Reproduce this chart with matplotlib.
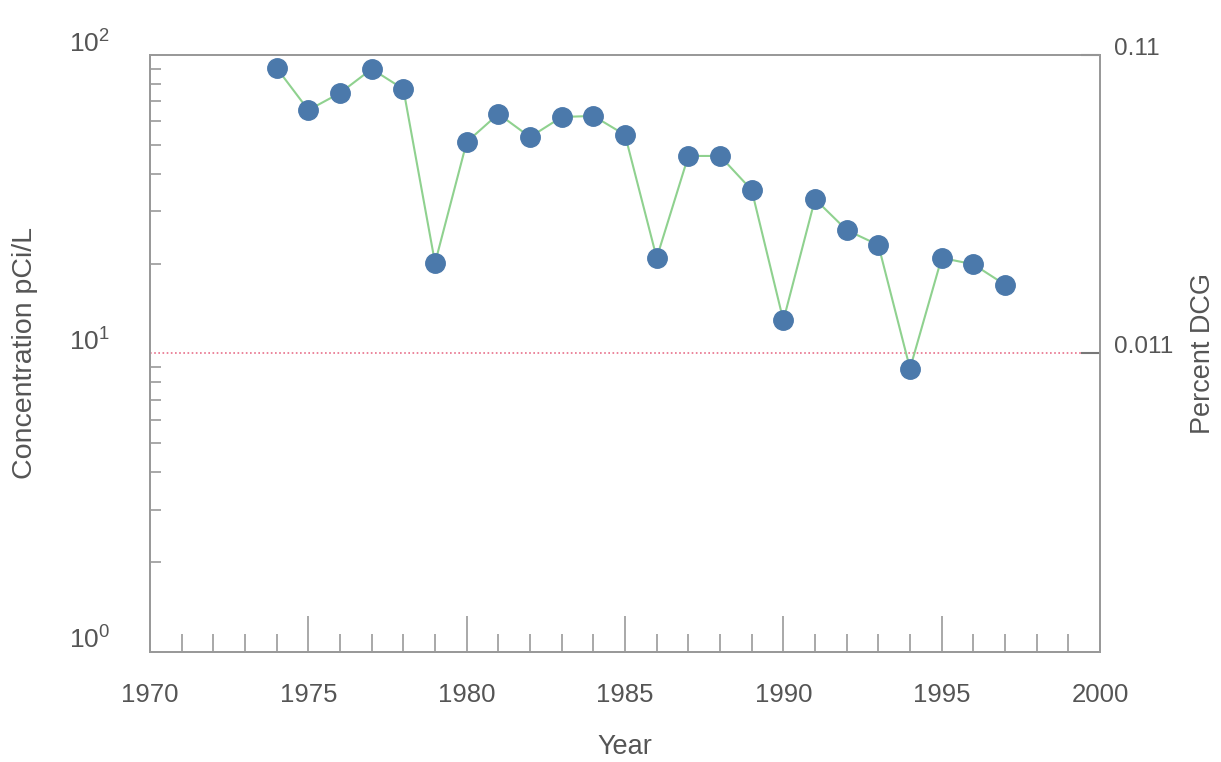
import matplotlib
matplotlib.use("Agg")
import matplotlib.pyplot as plt
from matplotlib.ticker import FixedLocator, NullFormatter, LogLocator
from matplotlib.transforms import ScaledTranslation

plt.rcParams['font.family'] = ['Liberation Sans', 'DejaVu Sans']

years = [1974, 1975, 1976, 1977, 1978, 1979, 1980, 1981, 1982, 1983, 1984, 1985,
         1986, 1987, 1988, 1989, 1990, 1991, 1992, 1993, 1994, 1995, 1996, 1997]
concentration = [90.4, 65.4, 74.6, 89.8, 76.9, 20.1, 51.1, 63.5, 53.1, 62.0, 62.5, 54.0,
                 20.9, 45.9, 45.9, 35.3, 12.9, 32.9, 25.9, 23.1, 8.9, 20.9, 19.9, 17.0]
dcg_level = 10.0
right_ticks = [0.011, 0.11]
right_labels = ["0.011", "0.11"]

text_color = "#555555"
spine_color = "#999999"

fig = plt.figure(figsize=(12.21, 7.62), dpi=100)
ax = fig.add_axes([0.1229, 0.1444, 0.778, 0.7834])

ax.set_yscale('log')
ax.set_ylim(1, 100)
ax.set_xlim(1970, 2000)

ax.axhline(dcg_level, color="#e8708a", linestyle=(0, (1, 1.5)), linewidth=1.2, zorder=1)
ax.plot(years, concentration, color="#8fd18f", linewidth=1.5, zorder=2)
ax.plot(years, concentration, linestyle='none', marker='o', markersize=14,
        markerfacecolor="#4b79ab", markeredgecolor="#4b79ab", zorder=3)

for s in ax.spines.values():
    s.set_color(spine_color)
    s.set_linewidth(1.3)

# x ticks: majors every 5 years, minors every year, pointing inward
ax.set_xticks(range(1970, 2001, 5))
ax.xaxis.set_minor_locator(FixedLocator(range(1970, 2001)))
ax.tick_params(axis='x', which='major', direction='in', length=26, width=1.2,
               color=spine_color, labelsize=18.5, labelcolor=text_color, pad=22)
ax.tick_params(axis='x', which='minor', direction='in', length=13, width=1.2,
               color=spine_color)

ax.yaxis.set_major_locator(FixedLocator([1, 10, 100]))
ax.yaxis.set_minor_locator(LogLocator(base=10, subs=range(2, 10)))
ax.yaxis.set_minor_formatter(NullFormatter())
ax.set_yticklabels([r"$\mathregular{10^0}$", r"$\mathregular{10^1}$", r"$\mathregular{10^2}$"])
ax.tick_params(axis='y', which='major', direction='in', length=0, labelsize=19,
               labelcolor=text_color, pad=29)
ax.tick_params(axis='y', which='minor', direction='in', length=8, width=1.2,
               color=spine_color)
for lab in ax.get_yticklabels():
    lab.set_transform(lab.get_transform() + ScaledTranslation(0, 0.14, fig.dpi_scale_trans))

ax.set_xlabel("Year", fontsize=19.5, color=text_color, labelpad=20)
ax.set_ylabel("Concentration pCi/L", fontsize=20.5, color=text_color, labelpad=22)

ax2 = ax.twinx()
ax2.set_yscale('log')
ax2.set_ylim(0.0011, 0.11)
ax2.yaxis.set_major_locator(FixedLocator(right_ticks))
ax2.yaxis.set_minor_locator(FixedLocator([]))
ax2.set_yticklabels(right_labels)
ax2.tick_params(axis='y', which='major', direction='in', length=14, width=1.5,
                color="#777777", labelsize=17.5, labelcolor=text_color, pad=10)
for lab in ax2.get_yticklabels():
    lab.set_transform(lab.get_transform() + ScaledTranslation(0, 0.09, fig.dpi_scale_trans))
ax2.set_ylabel("Percent DCG", fontsize=19.5, color=text_color, labelpad=12)
for s in ax2.spines.values():
    s.set_color(spine_color)
    s.set_linewidth(1.3)

fig.savefig("out.png", dpi=100)
